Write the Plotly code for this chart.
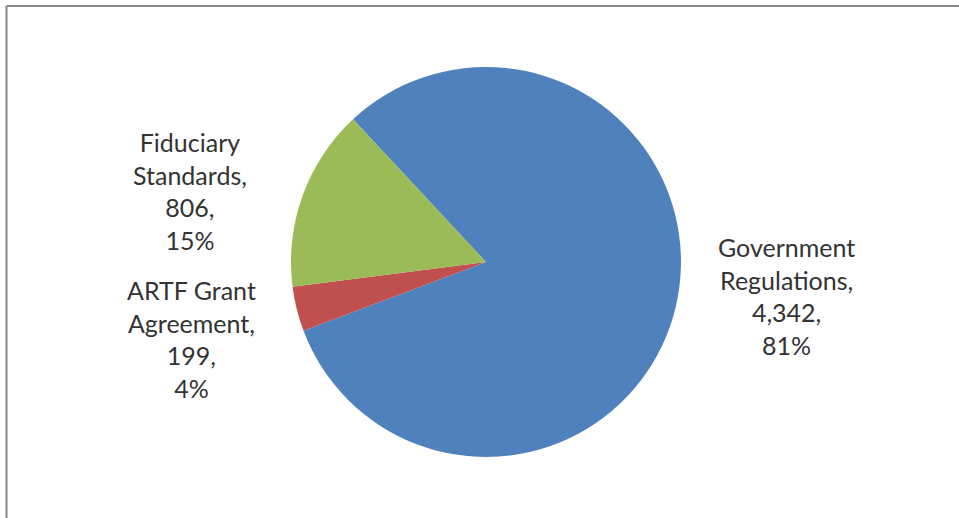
import plotly.graph_objects as go

# Category breakdown
categories = ["Government<br>Regulations", "ARTF Grant<br>Agreement", "Fiduciary<br>Standards"]
values = [4342, 199, 806]
colors = ["#4F81BD", "#C0504D", "#9BBB59"]

# Label anchor points (paper coordinates) for each category's data label
label_x = [0.8206, 0.2002, 0.1981]
label_y = [0.4286, 0.3456, 0.6322]

W, H = 959, 518
total = sum(values)

fig = go.Figure(
    go.Pie(
        labels=categories,
        values=values,
        sort=False,
        direction="clockwise",
        rotation=-43,
        marker=dict(colors=colors, line=dict(width=0)),
        textinfo="none",
        hoverinfo="label+value+percent",
        showlegend=False,
        domain=dict(x=[0.3034, 0.7101], y=[0.1178, 0.8707]),
    )
)

annotations = []
for cat, v, x, y in zip(categories, values, label_x, label_y):
    pct = round(100 * v / total)
    annotations.append(
        dict(
            text=f"{cat},<br>{v:,},<br>{pct}%",
            x=x, y=y, xref="paper", yref="paper",
            xanchor="center", yanchor="middle",
            showarrow=False, align="center",
            font=dict(family="Lato, 'Open Sans', sans-serif", size=25, color="#333333"),
        )
    )

# Frame around the chart area
shapes = [
    dict(type="line", xref="paper", yref="paper", x0=6.5 / W, x1=1, y0=1 - 6 / H, y1=1 - 6 / H,
         line=dict(color="#888888", width=2)),
    dict(type="line", xref="paper", yref="paper", x0=6.5 / W, x1=6.5 / W, y0=0, y1=1 - 6 / H,
         line=dict(color="#888888", width=2)),
]

fig.update_layout(
    width=W, height=H,
    margin=dict(l=0, r=0, t=0, b=0),
    paper_bgcolor="white",
    plot_bgcolor="white",
    annotations=annotations,
    shapes=shapes,
)

fig.write_html("out.html")
